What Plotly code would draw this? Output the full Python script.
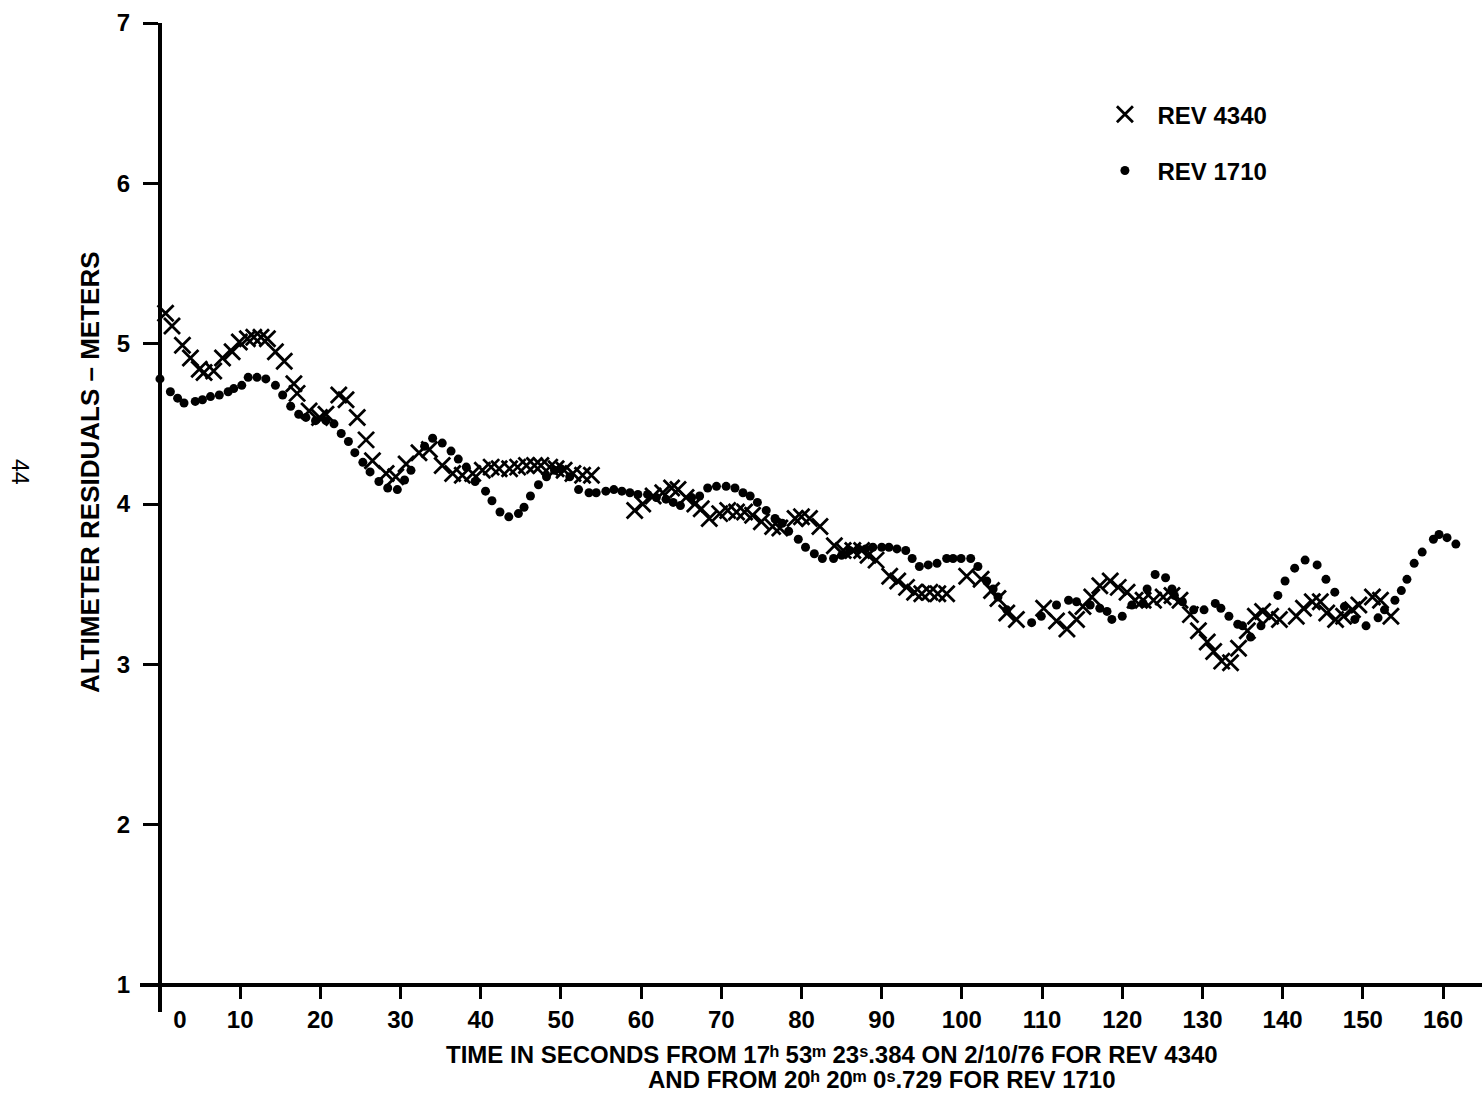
import plotly.graph_objects as go

# REV 4340 residuals (seconds, meters)
rev4340_t = [0.7, 1.5, 2.8, 3.8, 4.9, 5.5, 6.7, 7.8, 9.0, 9.9, 10.9, 11.7, 12.6, 13.4,
             14.4, 15.5, 16.7, 17.1, 18.6, 19.9, 20.7, 22.3, 23.2, 24.6, 25.7, 26.5,
             28.2, 29.4, 30.7, 32.3, 33.6, 35.2, 36.5, 37.7, 39.0, 40.2, 41.3, 42.3,
             43.6, 44.6, 45.7, 46.7, 47.5, 48.6, 49.4, 50.4, 51.5, 52.7, 53.8,
             59.2, 60.2, 61.5, 62.7, 63.8, 64.6, 65.6, 66.7, 67.5, 68.5, 69.8, 70.8,
             71.9, 72.9, 73.9, 75.0, 76.4, 77.3, 79.2, 80.0, 81.0, 82.3, 84.1, 85.2,
             86.4, 87.5, 88.3, 89.3, 91.0, 92.0, 93.1, 94.1, 95.0, 96.0, 97.0, 98.1,
             100.6, 102.4, 103.7, 104.5, 105.6, 106.8, 110.2, 111.8, 113.1, 114.3,
             115.1, 116.2, 117.2, 118.5, 119.5, 120.6, 121.6, 122.6, 123.9, 125.1,
             126.2, 127.2, 128.5, 129.5, 130.6, 131.4, 132.4, 133.5, 134.5, 135.6,
             136.6, 137.5, 138.5, 139.6, 141.7, 142.6, 143.7, 144.7, 145.5, 146.6,
             147.6, 148.7, 149.5, 151.2, 152.2, 153.5]
rev4340_v = [5.19, 5.11, 4.99, 4.91, 4.84, 4.82, 4.83, 4.91, 4.95, 5.01, 5.03, 5.04, 5.04, 5.03,
             4.95, 4.89, 4.75, 4.69, 4.58, 4.54, 4.56, 4.68, 4.65, 4.54, 4.40, 4.27,
             4.19, 4.17, 4.25, 4.32, 4.34, 4.24, 4.19, 4.18, 4.19, 4.21, 4.23, 4.22,
             4.22, 4.23, 4.24, 4.24, 4.24, 4.23, 4.22, 4.21, 4.19, 4.18, 4.18,
             3.96, 4.00, 4.05, 4.07, 4.10, 4.09, 4.04, 4.00, 3.97, 3.91, 3.94, 3.96,
             3.95, 3.95, 3.93, 3.89, 3.86, 3.85, 3.91, 3.92, 3.91, 3.86, 3.74, 3.71,
             3.71, 3.71, 3.68, 3.65, 3.55, 3.52, 3.48, 3.45, 3.44, 3.45, 3.44, 3.44,
             3.55, 3.53, 3.46, 3.41, 3.32, 3.28, 3.35, 3.27, 3.22, 3.28,
             3.36, 3.42, 3.49, 3.52, 3.48, 3.45, 3.40, 3.40, 3.40, 3.42,
             3.43, 3.40, 3.31, 3.21, 3.14, 3.08, 3.02, 3.01, 3.10, 3.21,
             3.30, 3.33, 3.30, 3.28, 3.30, 3.35, 3.39, 3.39, 3.32, 3.28,
             3.30, 3.34, 3.37, 3.42, 3.40, 3.30]

# REV 1710 residuals (seconds, meters)
rev1710_t = [0.0, 1.3, 2.2, 3.0, 4.4, 5.3, 6.3, 7.4, 8.5, 9.2, 10.2, 11.0, 12.1, 13.2,
             14.4, 15.3, 16.3, 17.3, 18.2, 19.4, 20.7, 21.7, 22.6, 23.5, 24.3, 25.3,
             26.2, 27.3, 28.4, 29.6, 30.5, 31.3, 33.0, 34.0, 35.2, 36.3, 37.2, 38.2,
             39.3, 40.6, 41.4, 42.4, 43.5, 44.7, 45.4, 46.2, 47.2, 48.2, 49.2, 50.0,
             51.1, 52.2, 53.5, 54.4, 55.6, 56.6, 57.6, 58.6, 59.6, 60.8, 61.9, 63.1,
             64.0, 64.9, 66.3, 67.3, 68.3, 69.4, 70.6, 71.7, 72.7, 73.6, 74.5, 75.6,
             76.7, 77.6, 78.4, 79.6, 80.5, 81.6, 82.6, 84.0, 85.0, 86.0, 87.1, 88.0,
             88.9, 90.0, 90.9, 91.9, 93.0, 93.8, 94.7, 95.8, 96.9, 98.1, 98.9, 99.9,
             101.1, 102.0, 103.1, 103.9, 104.5, 105.6, 108.7, 109.9, 111.8, 113.3,
             114.3, 116.0, 117.2, 118.1, 118.7, 120.0, 121.2, 122.6, 123.1, 124.1,
             125.4, 126.2, 126.5, 127.5, 128.9, 130.2, 131.6, 132.3, 133.3, 134.4,
             135.0, 136.0, 137.3, 139.4, 140.3, 141.5, 142.8, 144.3, 145.4, 146.5,
             147.7, 149.0, 150.4, 151.9, 152.7, 154.0, 154.8, 155.5, 156.4, 157.4,
             158.8, 159.5, 160.5, 161.6]
rev1710_v = [4.78, 4.70, 4.66, 4.63, 4.64, 4.65, 4.67, 4.68, 4.70, 4.72, 4.74, 4.79, 4.79, 4.78,
             4.74, 4.68, 4.61, 4.56, 4.54, 4.52, 4.52, 4.50, 4.44, 4.39, 4.32, 4.26,
             4.20, 4.14, 4.10, 4.09, 4.15, 4.21, 4.36, 4.41, 4.38, 4.33, 4.28, 4.23,
             4.14, 4.08, 4.02, 3.95, 3.92, 3.94, 3.98, 4.05, 4.12, 4.17, 4.21, 4.22,
             4.17, 4.09, 4.07, 4.07, 4.08, 4.09, 4.08, 4.07, 4.06, 4.06, 4.04, 4.03,
             4.01, 3.99, 4.04, 4.05, 4.10, 4.11, 4.11, 4.10, 4.07, 4.05, 4.01, 3.96,
             3.91, 3.88, 3.83, 3.78, 3.73, 3.69, 3.66, 3.66, 3.68, 3.71, 3.72, 3.72,
             3.73, 3.73, 3.73, 3.72, 3.71, 3.66, 3.61, 3.62, 3.63, 3.66, 3.66, 3.66,
             3.66, 3.61, 3.52, 3.47, 3.42, 3.34, 3.26, 3.30, 3.37, 3.40,
             3.39, 3.37, 3.35, 3.33, 3.28, 3.30, 3.37, 3.38, 3.47, 3.56,
             3.54, 3.47, 3.43, 3.39, 3.34, 3.34, 3.38, 3.35, 3.30, 3.25,
             3.24, 3.17, 3.24, 3.43, 3.52, 3.60, 3.65, 3.62, 3.53, 3.45,
             3.36, 3.28, 3.24, 3.29, 3.34, 3.40, 3.46, 3.53, 3.63, 3.70,
             3.78, 3.81, 3.79, 3.75]

x_ticks = list(range(0, 161, 10))
y_ticks = [1, 2, 3, 4, 5, 6, 7]

FONT = "Liberation Sans, Arial, Helvetica, sans-serif"

fig = go.Figure()
fig.add_trace(go.Scatter(
    x=rev4340_t, y=rev4340_v, mode="markers", name="REV 4340",
    legendgroup="a",
    marker=dict(symbol="x-thin", size=16, color="black",
                line=dict(width=2.8, color="black")),
))
fig.add_trace(go.Scatter(
    x=rev1710_t, y=rev1710_v, mode="markers", name="REV 1710",
    legendgroup="b",
    marker=dict(symbol="circle", size=9, color="black", line=dict(width=0)),
))

x_ticktext = ["\u00a0" * 6 + "0"] + [str(v) for v in x_ticks[1:]]

fig.update_layout(
    width=1482, height=1095,
    margin=dict(l=140, r=0, t=23, b=83),
    paper_bgcolor="white", plot_bgcolor="white",
    font=dict(family=FONT, color="black"),
    xaxis=dict(
        range=[-2.49, 164.86], anchor="free", position=0.0273,
        showgrid=False, zeroline=False,
        showline=True, linewidth=4, linecolor="black",
        ticks="outside", ticklen=12, tickwidth=3, tickcolor="black",
        tickvals=x_ticks, ticktext=x_ticktext,
        tickfont=dict(size=24, family=FONT, weight="bold"),
        ticklabelstandoff=0,
    ),
    yaxis=dict(
        range=[0.8316, 7.0], anchor="free", position=0.0149,
        showgrid=False, zeroline=False,
        showline=True, linewidth=4, linecolor="black",
        ticks="outside", ticklen=15, tickwidth=3, tickcolor="black",
        tickvals=y_ticks, ticktext=[str(v) for v in y_ticks],
        tickfont=dict(size=24, family=FONT, weight="bold"),
        ticklabelstandoff=8,
    ),
    legend=dict(
        x=0.7097, y=0.93, xanchor="left", yanchor="top",
        font=dict(size=24, family=FONT, weight="bold"),
        traceorder="grouped", tracegroupgap=22,
        itemwidth=55, bgcolor="rgba(0,0,0,0)",
    ),
    showlegend=True,
)


def px_x(p):
    return (p - 140) / 1342


def px_y(p):
    return (1012 - p) / 989


# axis titles (time marks written with modifier-letter superscripts)
fig.add_annotation(
    xref="paper", yref="paper", x=px_x(90), y=px_y(472),
    xanchor="center", yanchor="middle",
    text="ALTIMETER RESIDUALS \u2013 METERS", textangle=-90, showarrow=False,
    font=dict(size=26, family=FONT, weight="bold"),
)
fig.add_annotation(
    xref="paper", yref="paper", x=px_x(832), y=px_y(1054),
    xanchor="center", yanchor="middle",
    text="TIME IN SECONDS FROM 17\u02b0 53\u1d50 23\u02e2.384 ON 2/10/76 FOR REV 4340",
    showarrow=False, font=dict(size=24, family=FONT, weight="bold"),
)
fig.add_annotation(
    xref="paper", yref="paper", x=px_x(882), y=px_y(1079),
    xanchor="center", yanchor="middle",
    text="AND FROM 20\u02b0 20\u1d50 0\u02e2.729 FOR REV 1710",
    showarrow=False, font=dict(size=24, family=FONT, weight="bold"),
)
# page number
fig.add_annotation(
    xref="paper", yref="paper", x=px_x(20), y=px_y(472),
    xanchor="center", yanchor="middle",
    text="44", textangle=90, showarrow=False,
    font=dict(size=23, family=FONT),
)

fig.write_html("out.html")
